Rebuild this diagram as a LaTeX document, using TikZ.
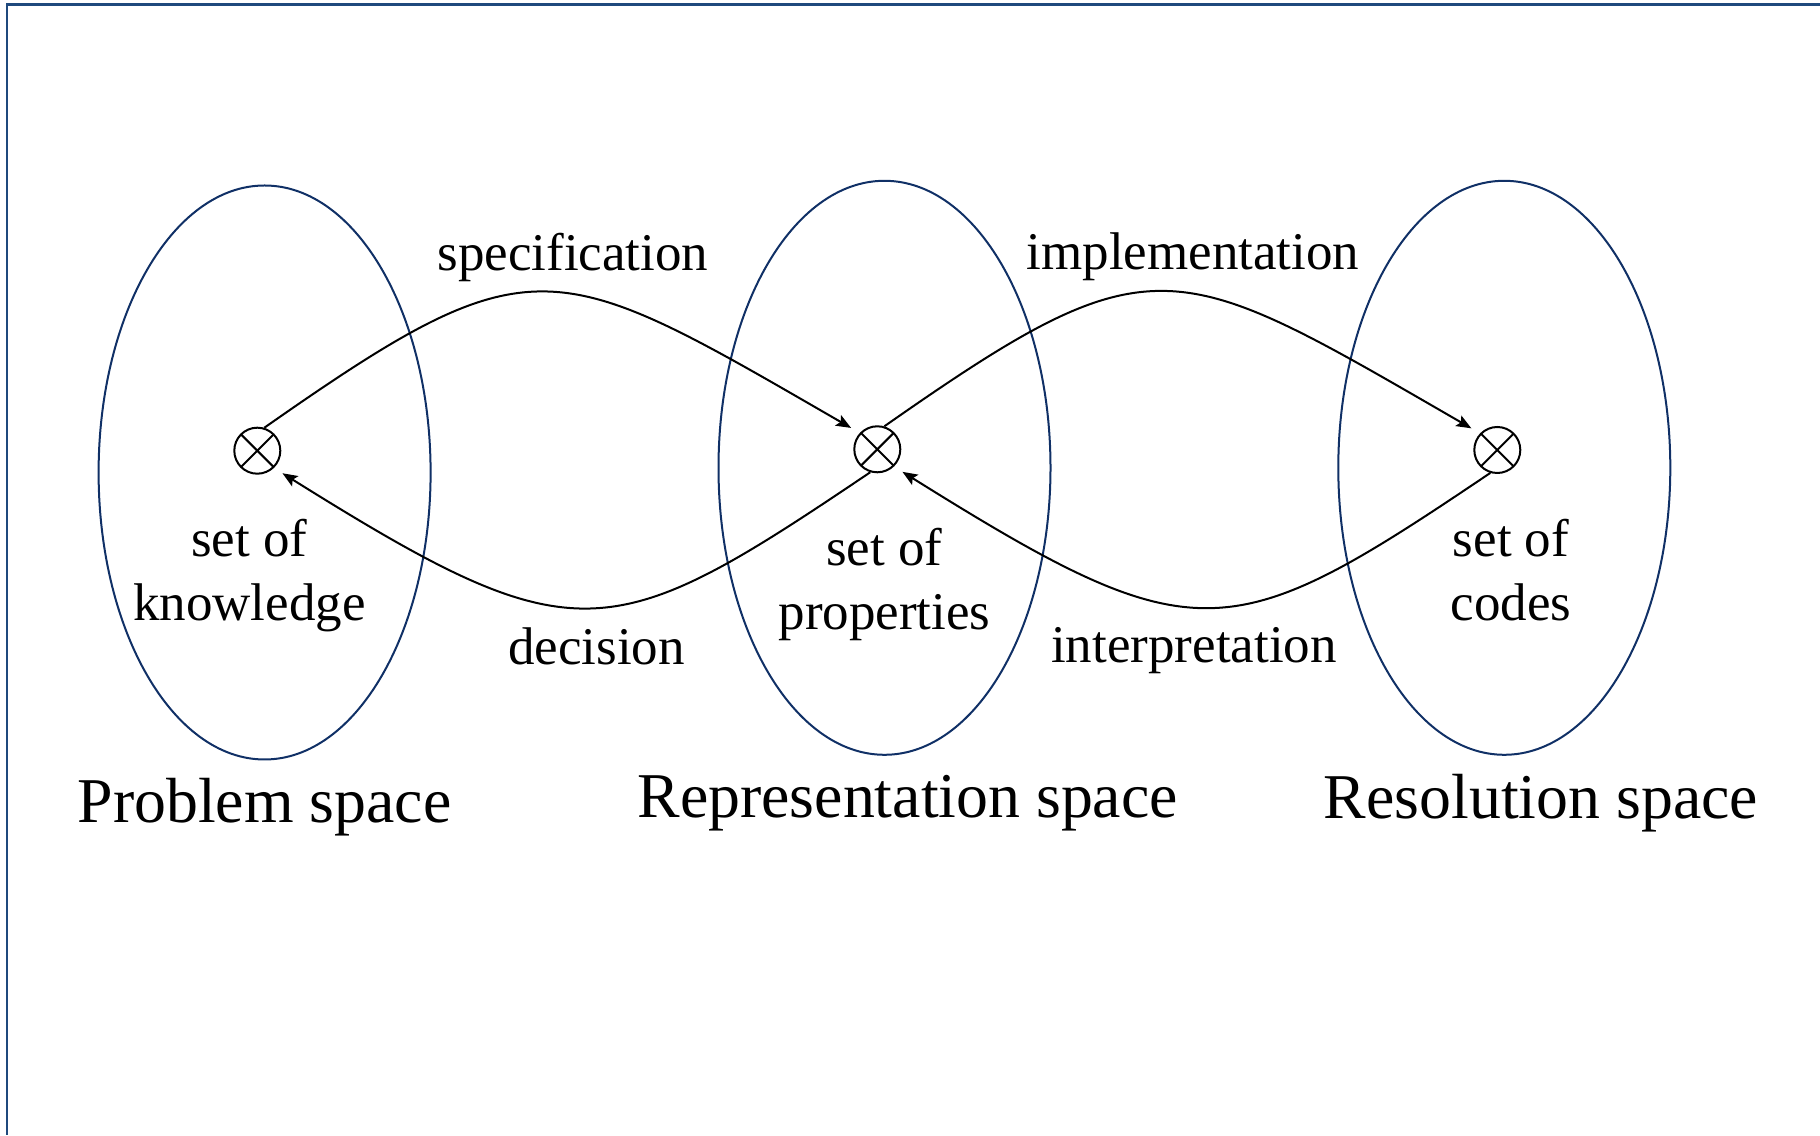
\documentclass[tikz,border=0pt]{standalone}
\usepackage{fontspec}
\setmainfont{Liberation Serif}
\usetikzlibrary{shapes.geometric,arrows.meta}
\definecolor{navy}{RGB}{16,48,102}
\definecolor{framec}{RGB}{31,73,125}
\begin{document}
\begin{tikzpicture}[x=0.5pt,y=0.5pt,
  space/.style={ellipse,draw=navy,line width=1pt,minimum width=166pt,minimum height=287pt,inner sep=0pt},
  crossc/.style={circle,draw,line width=1pt,minimum size=23pt,inner sep=0pt,
    path picture={\draw[line width=1pt] (path picture bounding box.north west)--(path picture bounding box.south east)
      (path picture bounding box.north east)--(path picture bounding box.south west);}},
  lbl/.style={font=\fontsize{26.5}{32}\selectfont,align=center,inner sep=0pt},
  big/.style={font=\fontsize{31.9}{38}\selectfont,inner sep=0pt},
  arr/.style={line width=1pt,shorten >=5pt,-{Stealth[length=7.5pt,width=6pt,inset=1.5pt]}}
]
\useasboundingbox (0,0) rectangle (1820,1135);
% frame
\draw[framec,line width=1.25pt] (1820,1130.5) -- (7,1130.5) -- (7,0);
% spaces
\node[space] (e1) at (264.6,662.5) {};
\node[space] (e2) at (884.5,667.2) {};
\node[space] (e3) at (1504.3,667.2) {};
% points
\node[crossc] (k) at (257.3,684.3) {};
\node[crossc] (p) at (877.3,685.7) {};
\node[crossc] (c) at (1497.3,685) {};
% connectors
\draw[arr] (k.73) .. controls +(35:330) and +(150:355) .. (p.137);
\draw[arr] (p.73) .. controls +(35:330) and +(150:355) .. (c.136);
\draw[arr] (p.253) .. controls +(214:315) and +(328:357) .. (k.-46);
\draw[arr] (c.253) .. controls +(214:315) and +(328:357) .. (p.-46);
% labels
\node[lbl] (ls) at (573,878) {specification};
\node[lbl] (li) at (1193,878) {implementation};
\node[lbl] (ld) at (596.6,488.5) {decision};
\node[lbl] (lr) at (1194,484.5) {interpretation};
\node[lbl] (tk) at (249.5,559) {set of\\knowledge};
\node[lbl] (tp) at (884.5,551) {set of\\properties};
\node[lbl] (tc) at (1511,565) {set of\\codes};
\node[big] (n1) at (264.6,327.5) {Problem space};
\node[big] (n2) at (907.7,332) {Representation space};
\node[big] (n3) at (1541,332) {Resolution space};
\end{tikzpicture}
\end{document}
